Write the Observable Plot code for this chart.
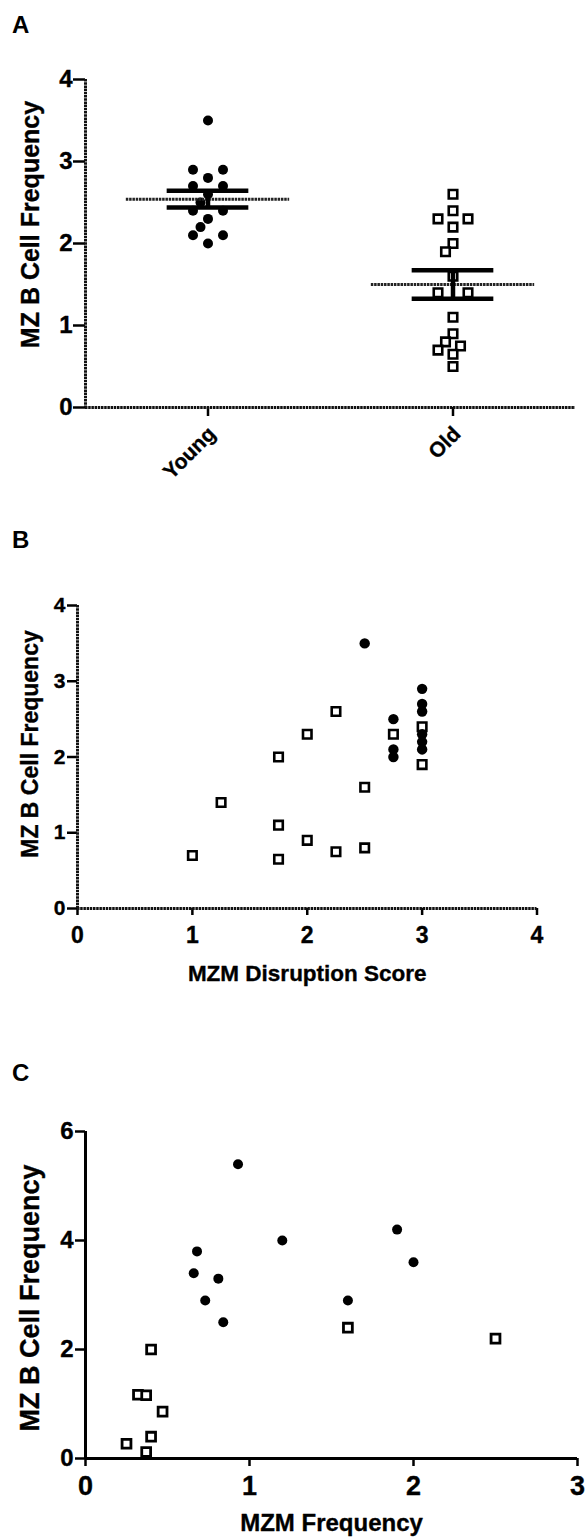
<!DOCTYPE html>
<html><head><meta charset="utf-8">
<script src="https://cdn.jsdelivr.net/npm/d3@7"></script>
<script src="https://cdn.jsdelivr.net/npm/@observablehq/plot@0.6"></script>
<style>
body{margin:0;background:#fff;}
#wrap{position:relative;width:587px;height:1539px;font-family:"Liberation Sans",Arial,sans-serif;font-weight:bold;color:#000;}
.panel{position:absolute;left:0;}
.letter{position:absolute;left:12px;font-size:24px;font-weight:bold;line-height:1;}
</style></head><body>
<div id="wrap">
  <div class="letter" style="top:13px">A</div>
  <div class="letter" style="top:528px">B</div>
  <div class="letter" style="top:1061px">C</div>
  <div class="panel" id="pA" style="top:40px"></div>
  <div class="panel" id="pB" style="top:580px"></div>
  <div class="panel" id="pC" style="top:1100px"></div>
</div>
<script>
// ---------- data ----------
const groups = ["Young", "Old"];
const youngA = [3.5, 2.9, 2.9, 2.8, 2.7, 2.7, 2.6, 2.5, 2.4, 2.4, 2.3, 2.2, 2.1, 2.1, 2.0];
const oldA = [2.6, 2.4, 2.3, 2.3, 2.2, 2.0, 1.9, 1.6, 1.4, 1.4, 1.1, 0.9, 0.8, 0.75, 0.7, 0.65, 0.5];
const yTicksA = [0, 1, 2, 3, 4];

const youngBx = [2.5, 2.75, 2.75, 2.75, 3, 3, 3, 3, 3, 3];
const youngBy = [3.5, 2.5, 2.1, 2.0, 2.9, 2.7, 2.6, 2.3, 2.2, 2.1];
const oldBx = [1.0, 1.25, 1.75, 1.75, 1.75, 2.0, 2.0, 2.25, 2.25, 2.5, 2.5, 2.75, 3, 3];
const oldBy = [0.7, 1.4, 2.0, 1.1, 0.65, 2.3, 0.9, 2.6, 0.75, 1.6, 0.8, 2.3, 2.4, 1.9];
const xTicksB = [0, 1, 2, 3, 4];
const yTicksB = [0, 1, 2, 3, 4];

const youngCx = [0.93, 0.68, 0.66, 0.81, 0.73, 0.84, 1.2, 1.6, 1.9, 2.0];
const youngCy = [5.4, 3.8, 3.4, 3.3, 2.9, 2.5, 4.0, 2.9, 4.2, 3.6];
const oldCx = [0.25, 0.32, 0.37, 0.40, 0.40, 0.37, 0.47, 1.6, 2.5];
const oldCy = [0.27, 1.17, 1.16, 2.0, 0.40, 0.12, 0.86, 2.4, 2.2];
const xTicksC = [0, 1, 2, 3];
const yTicksC = [0, 2, 4, 6];

const yLabel = "MZ B Cell Frequency";
const xLabelB = "MZM Disruption Score";
const xLabelC = "MZM Frequency";

// ---------- helpers ----------
const FONT = "'Liberation Sans', Arial, sans-serif";
const fmt = d3.format("d");
const blank = () => "";
const axisLine = {stroke: "#111", strokeWidth: 3, strokeDasharray: "2.5,0.7"};
const txt = {fontWeight: "bold", fill: "#000", fontFamily: FONT, stroke: "#000", strokeWidth: 0.35};

function yTickLabels(ticks, off, size) {
  return Plot.text(ticks, {y: d => d, text: fmt, frameAnchor: "left", textAnchor: "end", lineAnchor: "middle", dx: -off, fontSize: size, ...txt});
}
function xTickLabels(ticks, off, size) {
  return Plot.text(ticks, {x: d => d, text: fmt, frameAnchor: "bottom", textAnchor: "middle", lineAnchor: "top", dy: off, fontSize: size, ...txt});
}

// simple beeswarm: offsets in pixels
function swarm(values, yPx) {
  const items = values.map((v, k) => ({v, k})).sort((a, b) => b.v - a.v);
  const placed = [];
  const off = new Array(values.length).fill(0);
  const minD = 10.5;
  const ok = (x, y) => placed.every(p => Math.hypot(p.x - x, p.y - y) >= minD);
  let i = 0;
  while (i < items.length) {
    let j = i;
    while (j < items.length && items[j].v === items[i].v) j++;
    const grp = items.slice(i, j);
    const n = grp.length;
    if (n > 1) {
      grp.forEach((g, t) => {
        const o = (t - (n - 1) / 2) * 30;
        off[g.k] = o; placed.push({x: o, y: yPx(g.v)});
      });
    } else {
      const g = grp[0];
      const cands = [0, -7.5, 7.5, -15, 15, -22.5, 22.5, -30, 30];
      const o = cands.find(c => ok(c, yPx(g.v))) ?? 0;
      off[g.k] = o; placed.push({x: o, y: yPx(g.v)});
    }
    i = j;
  }
  return off;
}

// ---------- Panel A ----------
{
  const W = 587, H = 440, mt = 39, mb = 73, ml = 85, mr = 12;
  const yPx = d3.scaleLinear([0, 4], [H - mb, mt]);
  const xUnit = (W - ml - mr) / 2; // px per category step
  const ptsA = [];
  [youngA, oldA].forEach((vals, gi) => {
    const off = swarm(vals, yPx);
    vals.forEach((v, k) => ptsA.push({g: gi, x: gi + off[k] / xUnit, y: v}));
  });
  const stats = [youngA, oldA].map((v, i) => {
    const m = d3.mean(v), se = d3.deviation(v) / Math.sqrt(v.length);
    return {i, m, lo: m - se, hi: m + se};
  });
  const plot = Plot.plot({
    width: W, height: H, marginTop: mt, marginBottom: mb, marginLeft: ml, marginRight: mr,
    style: {fontFamily: FONT, fontWeight: "bold", color: "#000", background: "transparent", overflow: "visible"},
    x: {domain: [-0.5, 1.5]},
    y: {domain: [0, 4]},
    marks: [
      Plot.axisY(yTicksA, {tickSize: 12, tickFormat: blank, strokeWidth: 2.5, label: null}),
      Plot.axisX([0, 1], {tickSize: 9, tickFormat: blank, strokeWidth: 2.5, label: null}),
      yTickLabels(yTicksA, 13, 24),
      Plot.text([0, 1], {x: d => d, text: i => groups[i], frameAnchor: "bottom", textAnchor: "end", lineAnchor: "middle", rotate: -45, dx: 4, dy: 23, fontSize: 21, ...txt}),
      Plot.ruleY([0], axisLine),
      Plot.ruleX([-0.5], axisLine),
      Plot.dot(ptsA.filter(d => d.g === 0), {x: "x", y: "y", r: 5, fill: "#000", stroke: "none", symbol: "circle"}),
      Plot.dot(ptsA.filter(d => d.g === 1), {x: "x", y: "y", r: 4.8, fill: "#fff", stroke: "#000", strokeWidth: 2.6, symbol: "square"}),
      Plot.ruleY(stats, {y: "m", x1: d => d.i - 1/3, x2: d => d.i + 1/3, stroke: "#222", strokeWidth: 3, strokeDasharray: "2.5,0.8"}),
      Plot.ruleY(stats, {y: "lo", x1: d => d.i - 1/6, x2: d => d.i + 1/6, stroke: "#000", strokeWidth: 4.5}),
      Plot.ruleY(stats, {y: "hi", x1: d => d.i - 1/6, x2: d => d.i + 1/6, stroke: "#000", strokeWidth: 4.5}),
      Plot.ruleX(stats, {x: "i", y1: "lo", y2: "hi", stroke: "#000", strokeWidth: 4.5}),
      Plot.text([yLabel], {text: d => d, frameAnchor: "left", textAnchor: "middle", lineAnchor: "middle", dx: -55, dy: -19, rotate: -90, fontSize: 25, ...txt})
    ]
  });
  document.getElementById("pA").appendChild(plot);
}

// ---------- Panel B ----------
{
  const W = 587, H = 420, mt = 25, mb = 92, ml = 77, mr = 50.5;
  const young = youngBx.map((x, i) => ({x, y: youngBy[i]}));
  const old = oldBx.map((x, i) => ({x, y: oldBy[i]}));
  const plot = Plot.plot({
    width: W, height: H, marginTop: mt, marginBottom: mb, marginLeft: ml, marginRight: mr,
    style: {fontFamily: FONT, fontWeight: "bold", color: "#000", background: "transparent", overflow: "visible"},
    x: {domain: [0, 4]},
    y: {domain: [0, 4]},
    marks: [
      Plot.axisY(yTicksB, {tickSize: 10, tickFormat: blank, strokeWidth: 2.5, label: null}),
      Plot.axisX(xTicksB, {tickSize: 7, tickFormat: blank, strokeWidth: 2.5, label: null}),
      yTickLabels(yTicksB, 12, 21),
      xTickLabels(xTicksB, 18, 23),
      Plot.ruleY([0], axisLine),
      Plot.ruleX([0], axisLine),
      Plot.dot(old, {x: "x", y: "y", r: 4.8, fill: "#fff", stroke: "#000", strokeWidth: 2.6, symbol: "square"}),
      Plot.dot(young, {x: "x", y: "y", r: 5.2, fill: "#000", stroke: "none", symbol: "circle"}),
      Plot.text([xLabelB], {text: d => d, frameAnchor: "bottom", lineAnchor: "middle", dy: 65, fontSize: 22.5, ...txt}),
      Plot.text([yLabel], {text: d => d, frameAnchor: "left", textAnchor: "middle", lineAnchor: "middle", dx: -47, dy: -13, rotate: -90, fontSize: 23, ...txt})
    ]
  });
  document.getElementById("pB").appendChild(plot);
}

// ---------- Panel C ----------
{
  const W = 587, H = 439, mt = 31, mb = 81, ml = 85, mr = 10;
  const young = youngCx.map((x, i) => ({x, y: youngCy[i]}));
  const old = oldCx.map((x, i) => ({x, y: oldCy[i]}));
  const plot = Plot.plot({
    width: W, height: H, marginTop: mt, marginBottom: mb, marginLeft: ml, marginRight: mr,
    style: {fontFamily: FONT, fontWeight: "bold", color: "#000", background: "transparent", overflow: "visible"},
    x: {domain: [0, 3]},
    y: {domain: [0, 6]},
    marks: [
      Plot.axisY(yTicksC, {tickSize: 10, tickFormat: blank, strokeWidth: 2.5, label: null}),
      Plot.axisX(xTicksC, {tickSize: 8, tickFormat: blank, strokeWidth: 2.5, label: null}),
      yTickLabels(yTicksC, 12, 24),
      xTickLabels(xTicksC, 17, 27),
      Plot.ruleY([0], {stroke: "#000", strokeWidth: 3}),
      Plot.ruleX([0], {stroke: "#000", strokeWidth: 3}),
      Plot.dot(old, {x: "x", y: "y", r: 5, fill: "#fff", stroke: "#000", strokeWidth: 2.8, symbol: "square"}),
      Plot.dot(young, {x: "x", y: "y", r: 5, fill: "#000", stroke: "none", symbol: "circle"}),
      Plot.text([xLabelC], {text: d => d, frameAnchor: "bottom", lineAnchor: "middle", dy: 65, fontSize: 24, ...txt}),
      Plot.text([yLabel], {text: d => d, frameAnchor: "left", textAnchor: "middle", lineAnchor: "middle", dx: -55, dy: 3, rotate: -90, fontSize: 27, ...txt})
    ]
  });
  document.getElementById("pC").appendChild(plot);
}
</script>
</body></html>
